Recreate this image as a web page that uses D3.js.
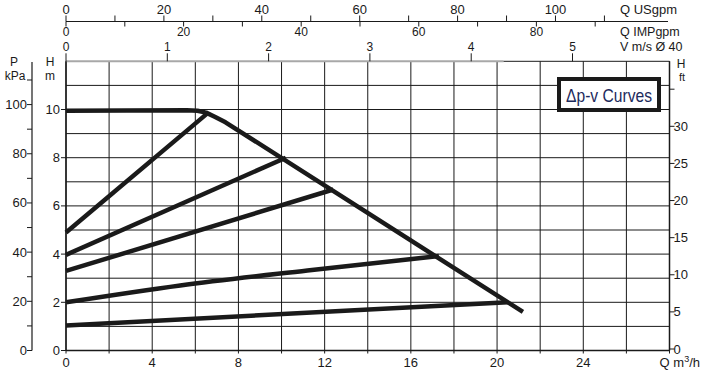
<!DOCTYPE html>
<html>
<head>
<meta charset="utf-8">
<script src="https://cdn.jsdelivr.net/npm/d3@7"></script>
<style>
  body { margin: 0; background: #fff; }
  svg { display: block; }
  text { font-family: "Liberation Sans", Arial, Helvetica, sans-serif; fill: #1a1a1a; }
</style>
</head>
<body>
<svg width="710" height="372"></svg>
<script>
// оси и подписи
const qTicks = [0, 4, 8, 12, 16, 20, 24];
const qGrid = d3.range(0, 29, 2);
const hTicks = [0, 2, 4, 6, 8, 10];
const hGrid = d3.range(1, 12, 1);
const pTicks = d3.range(0, 111, 10);
const pLabels = [0, 20, 40, 60, 80, 100];
const ftTicks = d3.range(0, 36, 5);
const ftLabels = [0, 5, 10, 15, 20, 25, 30];
const usTicks = d3.range(0, 111, 10);
const usLabels = [0, 20, 40, 60, 80, 100];
const impTicks = d3.range(0, 91, 10);
const impLabels = [0, 20, 40, 60, 80];
const vTicks = [0, 1, 2, 3, 4, 5];

// кривые (Q m3/h, H m)
const maxCurve = [[0, 9.95], [5.6, 9.97], [6.1, 9.95], [6.5, 9.87], [6.9, 9.7], [7.4, 9.47], [21.2, 1.6]];
const pvCurves = [
  [[0, 4.9], [6.6, 9.87]],
  [[0, 3.97], [10.2, 8.0]],
  [[0, 3.3], [12.4, 6.68]],
  [[0, 2.0], [5.3, 2.7], [11.2, 3.32], [17.3, 3.92]],
  [[0, 1.04], [20.5, 2.0]]
];

// пересчёт единиц
const usToM3 = 0.2271, impToM3 = 0.2728, vToM3 = 4.70, kPaToM = 1 / 9.8, ftToM = 0.308;

const svg = d3.select("svg");
const x = d3.scaleLinear().domain([0, 28]).range([66, 669.5]);
const y = d3.scaleLinear().domain([0, 12]).range([350.5, 61.3]);

const ink = "#1a1a1a";

// сетка
svg.append("g").selectAll("line").data(hGrid).enter().append("line")
  .attr("x1", x(0)).attr("x2", x(28))
  .attr("y1", d => y(d)).attr("y2", d => y(d))
  .attr("stroke", ink).attr("stroke-width", 1);

svg.append("g").selectAll("line").data(qGrid).enter().append("line")
  .attr("x1", d => x(d)).attr("x2", d => x(d))
  .attr("y1", y(12)).attr("y2", y(0) + 3)
  .attr("stroke", ink).attr("stroke-width", 1);

// верхняя граница поля
svg.append("line").attr("x1", x(0)).attr("x2", x(20.3)).attr("y1", y(12)).attr("y2", y(12))
  .attr("stroke", "#a8a8a8").attr("stroke-width", 2);
svg.append("line").attr("x1", x(20.3)).attr("x2", x(28)).attr("y1", y(12)).attr("y2", y(12))
  .attr("stroke", ink).attr("stroke-width", 1);

// нижняя ось Q
svg.append("line").attr("x1", x(0)).attr("x2", x(28)).attr("y1", y(0)).attr("y2", y(0))
  .attr("stroke", ink).attr("stroke-width", 1.5);
svg.append("g").selectAll("text").data(qTicks).enter().append("text")
  .attr("x", d => x(d)).attr("y", 367).attr("text-anchor", "middle")
  .attr("font-size", 13).text(d => d);
svg.append("text").attr("x", 700).attr("y", 367).attr("text-anchor", "end")
  .attr("font-size", 13).html('Q m<tspan dy="-5" font-size="9">3</tspan><tspan dy="5">/h</tspan>');

// левая ось H m
svg.append("line").attr("x1", x(0)).attr("x2", x(0)).attr("y1", y(12)).attr("y2", y(0))
  .attr("stroke", ink).attr("stroke-width", 1.5);
svg.append("g").selectAll("line").data(hTicks).enter().append("line")
  .attr("x1", x(0) - 5).attr("x2", x(0)).attr("y1", d => y(d)).attr("y2", d => y(d))
  .attr("stroke", ink);
svg.append("g").selectAll("text").data(hTicks).enter().append("text")
  .attr("x", x(0) - 6).attr("y", d => y(d) + 4.5).attr("text-anchor", "end")
  .attr("font-size", 13).text(d => d);
svg.append("text").attr("x", 50).attr("y", 66).attr("text-anchor", "middle").attr("font-size", 12).text("H");
svg.append("text").attr("x", 50).attr("y", 80).attr("text-anchor", "middle").attr("font-size", 12).text("m");

// ось P kPa
const pAxisX = 32;
svg.append("line").attr("x1", pAxisX).attr("x2", pAxisX).attr("y1", 62).attr("y2", y(0))
  .attr("stroke", ink).attr("stroke-width", 1.2);
svg.append("g").selectAll("line").data(pTicks).enter().append("line")
  .attr("x1", pAxisX - 5).attr("x2", pAxisX).attr("y1", d => y(d * kPaToM)).attr("y2", d => y(d * kPaToM))
  .attr("stroke", ink);
svg.append("g").selectAll("text").data(pLabels).enter().append("text")
  .attr("x", pAxisX - 5).attr("y", d => y(d * kPaToM) + 4.5).attr("text-anchor", "end")
  .attr("font-size", 13).text(d => d);
svg.append("text").attr("x", 14).attr("y", 66).attr("text-anchor", "middle").attr("font-size", 12).text("P");
svg.append("text").attr("x", 15).attr("y", 80).attr("text-anchor", "middle").attr("font-size", 12).text("kPa");

// правая ось H ft
svg.append("line").attr("x1", x(28)).attr("x2", x(28)).attr("y1", y(12)).attr("y2", y(0))
  .attr("stroke", ink).attr("stroke-width", 1.5);
svg.append("g").selectAll("line").data(ftTicks).enter().append("line")
  .attr("x1", x(28)).attr("x2", x(28) + 5).attr("y1", d => y(d * ftToM) - 1.5).attr("y2", d => y(d * ftToM) - 1.5)
  .attr("stroke", ink);
svg.append("g").selectAll("text").data(ftLabels).enter().append("text")
  .attr("x", x(28) + 4).attr("y", d => y(d * ftToM) + 3).attr("font-size", 13).text(d => d);
svg.append("text").attr("x", 681).attr("y", 68).attr("text-anchor", "middle").attr("font-size", 12).text("H");
svg.append("text").attr("x", 682).attr("y", 81).attr("text-anchor", "middle").attr("font-size", 11).text("ft");

// верхние оси USgpm / IMPgpm
const topY = 21.5;
svg.append("line").attr("x1", x(0)).attr("x2", 668).attr("y1", topY).attr("y2", topY)
  .attr("stroke", ink).attr("stroke-width", 1.2);
svg.append("g").selectAll("line").data(usTicks).enter().append("line")
  .attr("x1", d => x(d * usToM3)).attr("x2", d => x(d * usToM3))
  .attr("y1", topY - 6).attr("y2", topY).attr("stroke", ink);
svg.append("g").selectAll("line").data(impTicks).enter().append("line")
  .attr("x1", d => x(d * impToM3)).attr("x2", d => x(d * impToM3))
  .attr("y1", topY).attr("y2", topY + 5).attr("stroke", ink);
svg.append("g").selectAll("text").data(usLabels).enter().append("text")
  .attr("x", d => x(d * usToM3)).attr("y", 14).attr("text-anchor", "middle")
  .attr("font-size", 13).text(d => d);
svg.append("g").selectAll("text").data(impLabels).enter().append("text")
  .attr("x", d => x(d * impToM3)).attr("y", 36).attr("text-anchor", "middle")
  .attr("font-size", 12).text(d => d);

// ось V m/s
svg.append("g").selectAll("line").data(vTicks).enter().append("line")
  .attr("x1", d => x(d * vToM3)).attr("x2", d => x(d * vToM3))
  .attr("y1", y(12) - 8).attr("y2", y(12)).attr("stroke", ink);
svg.append("g").selectAll("text").data(vTicks).enter().append("text")
  .attr("x", d => x(d * vToM3)).attr("y", 51).attr("text-anchor", "middle")
  .attr("font-size", 12).text(d => d);

svg.append("text").attr("x", 620).attr("y", 14).attr("font-size", 13).text("Q USgpm");
svg.append("text").attr("x", 620).attr("y", 36).attr("font-size", 12.5).text("Q IMPgpm");
svg.append("text").attr("x", 620).attr("y", 51).attr("font-size", 12.5).text("V m/s Ø 40");

// кривые
const curved = d3.line().x(d => x(d[0])).y(d => y(d[1])).curve(d3.curveMonotoneX);
const straight = d3.line().x(d => x(d[0])).y(d => y(d[1]));
svg.append("g").selectAll("path").data(pvCurves).enter().append("path")
  .attr("d", curved).attr("fill", "none").attr("stroke", ink).attr("stroke-width", 4.5);
svg.append("path").attr("d", straight(maxCurve)).attr("fill", "none")
  .attr("stroke", ink).attr("stroke-width", 4.5).attr("stroke-linejoin", "round");

// легенда
svg.append("rect").attr("x", 559).attr("y", 79).attr("width", 100).attr("height", 31)
  .attr("fill", "#fff").attr("stroke", ink).attr("stroke-width", 4);
svg.append("text").attr("x", 609).attr("y", 102).attr("text-anchor", "middle")
  .attr("font-size", 19).attr("textLength", 86).attr("lengthAdjust", "spacingAndGlyphs")
  .style("fill", "#1c2a5c").text("Δp-v Curves");
</script>
</body>
</html>
